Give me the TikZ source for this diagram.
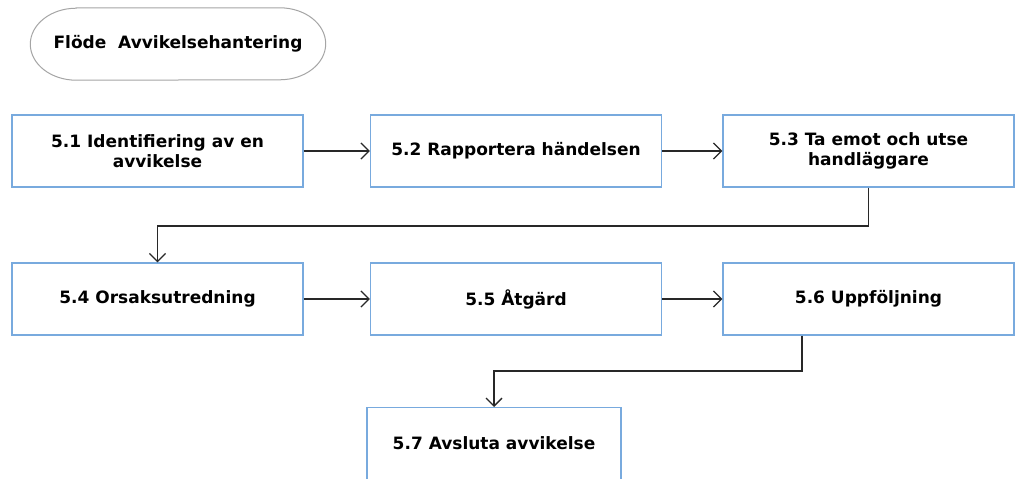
\documentclass[tikz,border=0pt]{standalone}
\usepackage{fontspec}
\setmainfont{DejaVu Sans}
\usetikzlibrary{arrows.meta,positioning}
\definecolor{boxblue}{RGB}{120,170,222}
\definecolor{linegray}{RGB}{40,40,40}
\definecolor{titlegray}{RGB}{165,165,165}
\tikzset{
  x=1pt, y=-1pt,
  labelfont/.style={font=\bfseries\fontsize{17}{20}\selectfont},
  stepbox/.style={draw=boxblue, line width=1.3pt, fill=white,
    minimum width=291pt, minimum height=72pt, align=center,
    labelfont, inner sep=0pt},
  titlebox/.style={minimum width=295pt, minimum height=72pt, labelfont},
  titleborder/.style={draw=titlegray, line width=1pt},
  flow/.style={draw=linegray, line width=1.3pt,
    -{Straight Barb[length=8pt,width=16pt,line width=1.3pt]}}
}
\begin{document}
\begin{tikzpicture}
\useasboundingbox (0,0) rectangle (1015,479);
\clip (0,0) rectangle (1015,479);
\fill[white] (0,0) rectangle (1015,479);

% title: a bar with elliptical ends
\node[titlebox] (title) at (178,44) {Flöde\ \ Avvikelsehantering};
\draw[titleborder]
  ([xshift=46pt]title.north west) -- ([xshift=-46pt]title.north east)
  arc[start angle=90, end angle=-90, x radius=46pt, y radius=36pt]
  -- ([xshift=46pt]title.south west)
  arc[start angle=270, end angle=90, x radius=46pt, y radius=36pt] -- cycle;

\node[stepbox] (s1) at (157.5,151) {5.1 Identifiering av en\\avvikelse};
\node[stepbox] (s2) at (516,151) {5.2 Rapportera händelsen};
\node[stepbox] (s3) at (868.5,151) {5.3 Ta emot och utse\\handläggare};
\node[stepbox] (s4) at (157.5,299) {5.4 Orsaksutredning};
\node[stepbox] (s5) at (516,299) {5.5 Åtgärd};
\node[stepbox] (s6) at (868.5,299) {5.6 Uppföljning};
\node[stepbox, minimum width=254pt, minimum height=80pt, anchor=north] (s7) at (494,407) {};
\node[labelfont] (s7text) at (494,443) {5.7 Avsluta avvikelse};

\draw[flow] (s1.east) -- (s2.west);
\draw[flow] (s2.east) -- (s3.west);
\draw[flow] (s4.east) -- (s5.west);
\draw[flow] (s5.east) -- (s6.west);

\coordinate (b3) at (s3.south);
\coordinate (t4) at (s4.north);
\draw[flow] (b3) -- (b3 |- 0,226) -- (t4 |- 0,226) -- (t4);

\coordinate (b6) at ([xshift=-66.5pt]s6.south);
\coordinate (t7) at (s7.north);
\draw[flow] (b6) -- (b6 |- 0,371) -- (t7 |- 0,371) -- (t7);
\end{tikzpicture}
\end{document}
